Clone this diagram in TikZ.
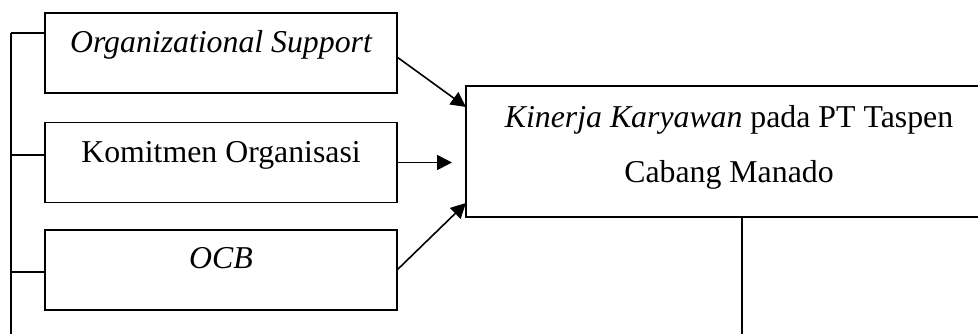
\documentclass[tikz,border=0pt]{standalone}
\usepackage{fontspec}
\setmainfont{Liberation Serif}
\usetikzlibrary{arrows.meta}
\begin{document}
\begin{tikzpicture}[x=0.5pt,y=-0.5pt,
  every node/.style={font=\fontsize{15.9pt}{19pt}\selectfont},
  varbox/.style={draw,line width=0.9pt,minimum width=176pt,minimum height=40pt,inner sep=0pt,outer sep=0pt},
  mainbox/.style={draw,line width=0.9pt,minimum width=272pt,minimum height=65.5pt,inner sep=0pt,outer sep=0pt},
  txt/.style={anchor=base,inner sep=0pt},
  conn/.style={line width=0.9pt},
  arr/.style={line width=0.8pt,-{Triangle[length=7.5pt,width=7.5pt]}}]
\useasboundingbox (0,0) rectangle (978,333);
\clip (0,0) rectangle (978,333);
% boxes
\node[varbox] (b1) at (221,53) {};
\node[varbox] (b2) at (221,162.5) {};
\node[varbox] (b3) at (221,270) {};
\node[mainbox] (main) at (738,151.5) {};
% texts
\node[txt] (t1) at (221,52) {\itshape Organizational Support};
\node[txt] (t2) at (221,162) {Komitmen Organisasi};
\node[txt] (t3) at (221,268) {\itshape OCB};
\node[txt] (m1) at (729,127) {\textit{Kinerja Karyawan} pada PT Taspen};
\node[txt] (m2) at (729,182) {Cabang Manado};
% left bus
\coordinate (bustop) at (11,33);
\coordinate (busbot) at (11,340);
\draw[conn] (bustop) -- (busbot);
\draw[conn] (bustop) -- ([yshift=10pt]b1.west);
\draw[conn] ([yshift=3.75pt]b2.west -| bustop) -- ([yshift=3.75pt]b2.west);
\draw[conn] ([yshift=-1pt]b3.west -| bustop) -- ([yshift=-1pt]b3.west);
% right line
\coordinate (rbot) at (742,340);
\draw[conn] (main.south -| rbot) -- (rbot);
% arrows
\draw[arr] ([yshift=-2pt]b1.east) -- ([yshift=22.25pt]main.west);
\draw[arr,shorten >=7pt] (b2.east) -- (b2.east -| main.west);
\draw[arr] (b3.east) -- ([yshift=-25.75pt]main.west);
\end{tikzpicture}
\end{document}
